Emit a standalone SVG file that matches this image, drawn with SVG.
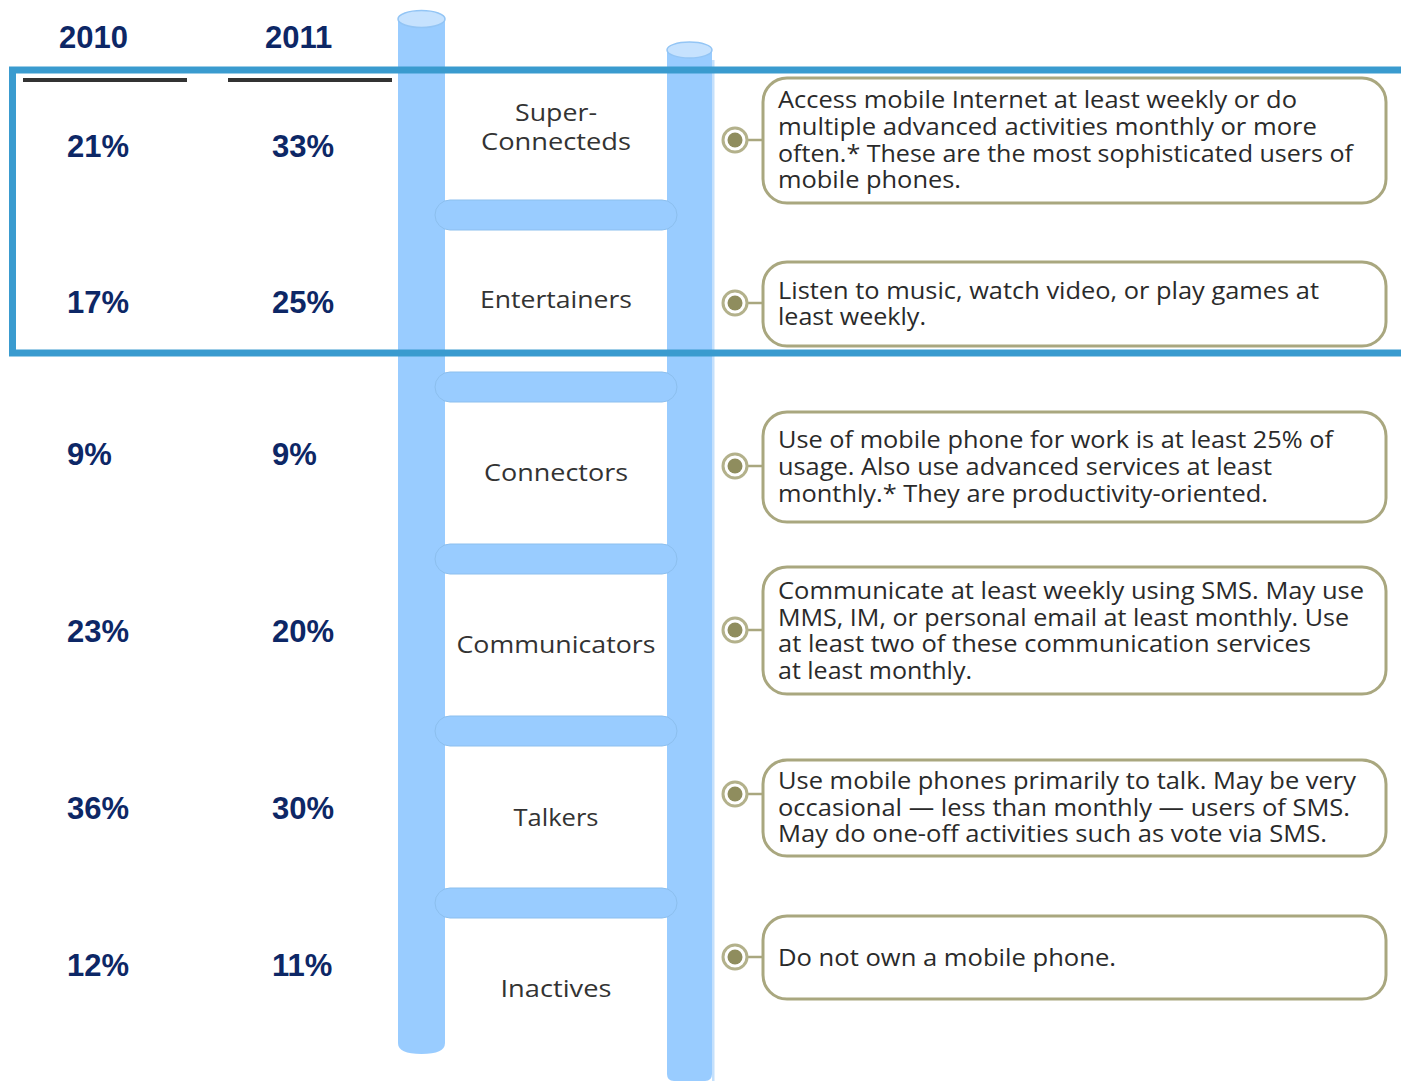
<svg xmlns="http://www.w3.org/2000/svg" width="1401" height="1081" viewBox="0 0 1401 1081">
  <style>
    .pct { font-family: "Liberation Sans", Arial, sans-serif; font-weight: bold; font-size: 31px; fill: #0d2766; }
    .rule { stroke: #333333; stroke-width: 4; }
    .post { fill: #99ccff; }
    .cap { fill: #c6e2fe; stroke: #93c5f5; stroke-width: 1.5; }
    .rung { fill: #99ccff; stroke: #8cbfee; stroke-width: 1; }
    .step { font-family: "Open Sans", "Noto Sans", sans-serif; font-size: 24px; fill: #333333; text-anchor: middle; }
    .box { fill: #ffffff; stroke: #a9a77f; stroke-width: 3; }
    .desc { font-family: "Open Sans", "Noto Sans", sans-serif; font-size: 23px; fill: #2a2a2a; }
    .ring { fill: #ffffff; stroke: #b3b18b; stroke-width: 3; }
    .dot { fill: #8f8d5e; }
    .link { stroke: #a9a77f; stroke-width: 2.5; fill: none; }
    .frame { fill: none; stroke: #3a9bcf; stroke-width: 7; }
  </style>

  <rect width="1401" height="1081" fill="#ffffff"/>

  <!-- year headings and percentage columns -->
  <g id="col-2010">
    <text class="pct" x="59" y="48">2010</text>
    <line class="rule" x1="23" y1="80" x2="187" y2="80"/>
    <text class="pct" x="67" y="157">21%</text>
    <text class="pct" x="67" y="313">17%</text>
    <text class="pct" x="67" y="465">9%</text>
    <text class="pct" x="67" y="642">23%</text>
    <text class="pct" x="67" y="819">36%</text>
    <text class="pct" x="67" y="976">12%</text>
  </g>
  <g id="col-2011">
    <text class="pct" x="265" y="48">2011</text>
    <line class="rule" x1="228" y1="80" x2="392" y2="80"/>
    <text class="pct" x="272" y="157">33%</text>
    <text class="pct" x="272" y="313">25%</text>
    <text class="pct" x="272" y="465">9%</text>
    <text class="pct" x="272" y="642">20%</text>
    <text class="pct" x="272" y="819">30%</text>
    <text class="pct" x="272" y="976">11%</text>
  </g>

  <!-- ladder: two posts and five rungs -->
  <g id="ladder">
    <path class="post" d="M398 19 H445 V1043 Q445 1054 421.5 1054 Q398 1054 398 1043 Z"/>
    <ellipse class="cap" cx="421.5" cy="19" rx="23.5" ry="8.5"/>
    <path class="post" d="M667 50 H712 V1074 Q712 1081 705 1081 H674 Q667 1081 667 1074 Z"/>
    <rect x="712" y="60" width="2.5" height="1021" fill="#c4e0fc"/>
    <ellipse class="cap" cx="689.5" cy="50" rx="22.5" ry="8"/>
    <rect class="rung" x="435" y="200" width="242" height="30" rx="15"/>
    <rect class="rung" x="435" y="372" width="242" height="30" rx="15"/>
    <rect class="rung" x="435" y="544" width="242" height="30" rx="15"/>
    <rect class="rung" x="435" y="716" width="242" height="30" rx="15"/>
    <rect class="rung" x="435" y="888" width="242" height="30" rx="15"/>
  </g>

  <!-- step labels -->
  <g id="step-superconnecteds">
    <text class="step" x="556" y="121" textLength="82" lengthAdjust="spacingAndGlyphs">Super-</text>
    <text class="step" x="556" y="150" textLength="150" lengthAdjust="spacingAndGlyphs">Connecteds</text>
  </g>
  <g id="step-entertainers">
    <text class="step" x="556" y="308" textLength="152" lengthAdjust="spacingAndGlyphs">Entertainers</text>
  </g>
  <g id="step-connectors">
    <text class="step" x="556" y="481" textLength="144" lengthAdjust="spacingAndGlyphs">Connectors</text>
  </g>
  <g id="step-communicators">
    <text class="step" x="556" y="653" textLength="199" lengthAdjust="spacingAndGlyphs">Communicators</text>
  </g>
  <g id="step-talkers">
    <text class="step" x="556" y="826" textLength="85" lengthAdjust="spacingAndGlyphs">Talkers</text>
  </g>
  <g id="step-inactives">
    <text class="step" x="556" y="997" textLength="111" lengthAdjust="spacingAndGlyphs">Inactives</text>
  </g>

  <!-- connectors: bullet to description box -->
  <g id="connectors">
    <line class="link" x1="748" y1="140" x2="764" y2="140"/>
    <line class="link" x1="748" y1="303" x2="764" y2="303"/>
    <line class="link" x1="748" y1="466" x2="764" y2="466"/>
    <line class="link" x1="748" y1="630" x2="764" y2="630"/>
    <line class="link" x1="748" y1="794" x2="764" y2="794"/>
    <line class="link" x1="748" y1="957" x2="764" y2="957"/>
    <circle class="ring" cx="735" cy="140" r="12"/><circle class="dot" cx="735" cy="140" r="7.5"/>
    <circle class="ring" cx="735" cy="303" r="12"/><circle class="dot" cx="735" cy="303" r="7.5"/>
    <circle class="ring" cx="735" cy="466" r="12"/><circle class="dot" cx="735" cy="466" r="7.5"/>
    <circle class="ring" cx="735" cy="630" r="12"/><circle class="dot" cx="735" cy="630" r="7.5"/>
    <circle class="ring" cx="735" cy="794" r="12"/><circle class="dot" cx="735" cy="794" r="7.5"/>
    <circle class="ring" cx="735" cy="957" r="12"/><circle class="dot" cx="735" cy="957" r="7.5"/>
  </g>

  <!-- description boxes -->
  <g id="desc-superconnecteds">
    <rect class="box" x="763" y="78" width="623" height="125" rx="24"/>
    <text class="desc" x="778" y="108" textLength="519" lengthAdjust="spacingAndGlyphs">Access mobile Internet at least weekly or do</text>
    <text class="desc" x="778" y="135" textLength="539" lengthAdjust="spacingAndGlyphs">multiple advanced activities monthly or more</text>
    <text class="desc" x="778" y="162" textLength="575" lengthAdjust="spacingAndGlyphs">often.* These are the most sophisticated users of</text>
    <text class="desc" x="778" y="188" textLength="183" lengthAdjust="spacingAndGlyphs">mobile phones.</text>
  </g>
  <g id="desc-entertainers">
    <rect class="box" x="763" y="262" width="623" height="84" rx="24"/>
    <text class="desc" x="778" y="299" textLength="541" lengthAdjust="spacingAndGlyphs">Listen to music, watch video, or play games at</text>
    <text class="desc" x="778" y="325" textLength="148" lengthAdjust="spacingAndGlyphs">least weekly.</text>
  </g>
  <g id="desc-connectors">
    <rect class="box" x="763" y="412" width="623" height="110" rx="24"/>
    <text class="desc" x="778" y="448" textLength="555" lengthAdjust="spacingAndGlyphs">Use of mobile phone for work is at least 25% of</text>
    <text class="desc" x="778" y="475" textLength="494" lengthAdjust="spacingAndGlyphs">usage. Also use advanced services at least</text>
    <text class="desc" x="778" y="502" textLength="490" lengthAdjust="spacingAndGlyphs">monthly.* They are productivity-oriented.</text>
  </g>
  <g id="desc-communicators">
    <rect class="box" x="763" y="567" width="623" height="127" rx="24"/>
    <text class="desc" x="778" y="599" textLength="586" lengthAdjust="spacingAndGlyphs">Communicate at least weekly using SMS. May use</text>
    <text class="desc" x="778" y="626" textLength="571" lengthAdjust="spacingAndGlyphs">MMS, IM, or personal email at least monthly. Use</text>
    <text class="desc" x="778" y="652" textLength="533" lengthAdjust="spacingAndGlyphs">at least two of these communication services</text>
    <text class="desc" x="778" y="679" textLength="194" lengthAdjust="spacingAndGlyphs">at least monthly.</text>
  </g>
  <g id="desc-talkers">
    <rect class="box" x="763" y="760" width="623" height="96" rx="24"/>
    <text class="desc" x="778" y="789" textLength="578" lengthAdjust="spacingAndGlyphs">Use mobile phones primarily to talk. May be very</text>
    <text class="desc" x="778" y="816" textLength="572" lengthAdjust="spacingAndGlyphs">occasional — less than monthly — users of SMS.</text>
    <text class="desc" x="778" y="842" textLength="549" lengthAdjust="spacingAndGlyphs">May do one-off activities such as vote via SMS.</text>
  </g>
  <g id="desc-inactives">
    <rect class="box" x="763" y="916" width="623" height="83" rx="24"/>
    <text class="desc" x="778" y="966" textLength="338" lengthAdjust="spacingAndGlyphs">Do not own a mobile phone.</text>
  </g>

  <!-- highlight frame round the top two tiers -->
  <rect class="frame" x="12.5" y="70" width="1400" height="283"/>
</svg>
